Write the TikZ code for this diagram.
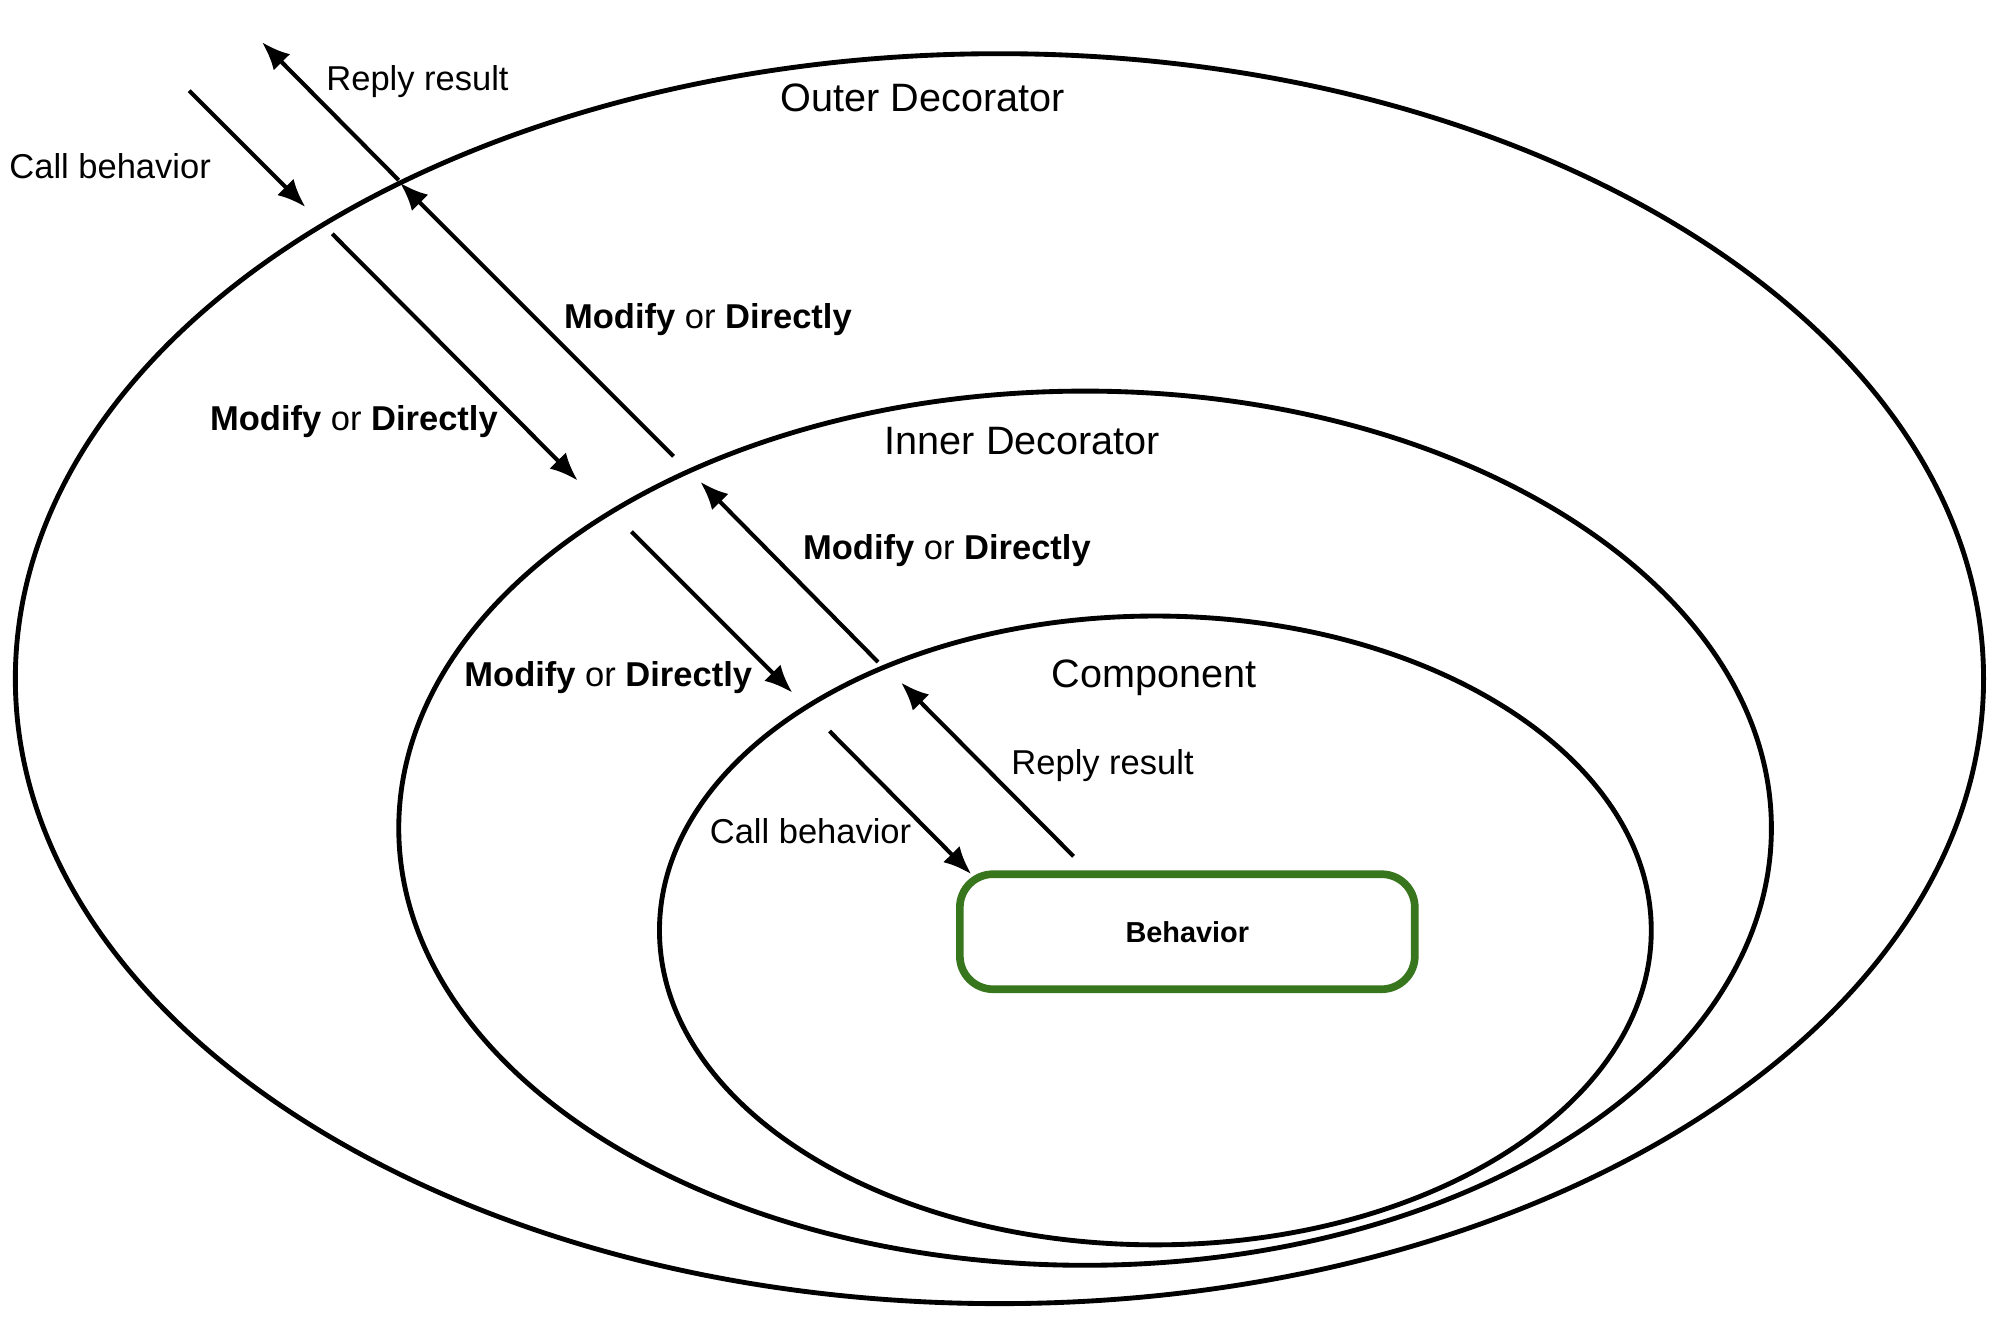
\documentclass[tikz,border=0pt]{standalone}
\usepackage{fontspec}
\setmainfont{Liberation Sans}
\usetikzlibrary{shapes.geometric,arrows.meta}
\definecolor{boxgreen}{RGB}{56,118,29}
\begin{document}
\begin{tikzpicture}[x=0.5pt,y=-0.5pt,
  ring/.style={ellipse, draw, line width=1.9pt, inner sep=0pt},
  flow/.style={line width=1.6pt, -{Latex[length=11pt,width=9pt]}},
  lbl/.style={font=\fontsize{13.5}{16}\selectfont, anchor=base west, inner sep=0pt},
  title/.style={font=\fontsize{15.5}{18}\selectfont, anchor=base, inner sep=0pt},
  beh/.style={draw=boxgreen, line width=3pt, rounded corners=13pt, minimum width=178pt, minimum height=45pt, font=\bfseries\fontsize{11.3}{13}\selectfont}]
\useasboundingbox (0,0) rectangle (1568,1033);
\fill[white] (0,0) rectangle (1568,1033);
% rings
\node[ring, minimum width=770pt, minimum height=489pt] (outer) at (782,531) {};
\node[ring, minimum width=537pt, minimum height=342pt] (inner) at (849,648) {};
\node[ring, minimum width=388pt, minimum height=246pt] (comp) at (904,728) {};
\node[beh] (behavior) at (929,729) {Behavior};
% titles
\node[title] (touter) at (722,87) {Outer Decorator};
\node[title] (tinner) at (800,356) {Inner Decorator};
\node[title] (tcomp) at (903,538) {Component};
% arrow end points
\coordinate (c1s) at (148,71);   \coordinate (c1e) at (239,162);
\coordinate (r1s) at (312,141);  \coordinate (r1e) at (205,33);
\coordinate (c2s) at (260,183);  \coordinate (c2e) at (452,376);
\coordinate (r2s) at (527,357);  \coordinate (r2e) at (313,143);
\coordinate (c3s) at (494,416);  \coordinate (c3e) at (620,542);
\coordinate (r3s) at (687,518);  \coordinate (r3e) at (548,377);
\coordinate (c4s) at (649,572);  \coordinate (c4e) at (760,684);
\coordinate (r4s) at (840,670);  \coordinate (r4e) at (705,534);
\draw[flow] (c1s) -- (c1e);
\draw[flow] (r1s) -- (r1e);
\draw[flow] (c2s) -- (c2e);
\draw[flow] (r2s) -- (r2e);
\draw[flow] (c3s) -- (c3e);
\draw[flow] (r3s) -- (r3e);
\draw[flow] (c4s) -- (c4e);
\draw[flow] (r4s) -- (r4e);
% labels
\node[lbl] (l1) at (7,140) {Call behavior};
\node[lbl] (l2) at (255,71) {Reply result};
\node[lbl] (l3) at (164,337) {\textbf{Modify} or \textbf{Directly}};
\node[lbl] (l4) at (441,257) {\textbf{Modify} or \textbf{Directly}};
\node[lbl] (l5) at (363,537) {\textbf{Modify} or \textbf{Directly}};
\node[lbl] (l6) at (628,438) {\textbf{Modify} or \textbf{Directly}};
\node[lbl] (l7) at (555,660) {Call behavior};
\node[lbl] (l8) at (791,606) {Reply result};
\end{tikzpicture}
\end{document}
